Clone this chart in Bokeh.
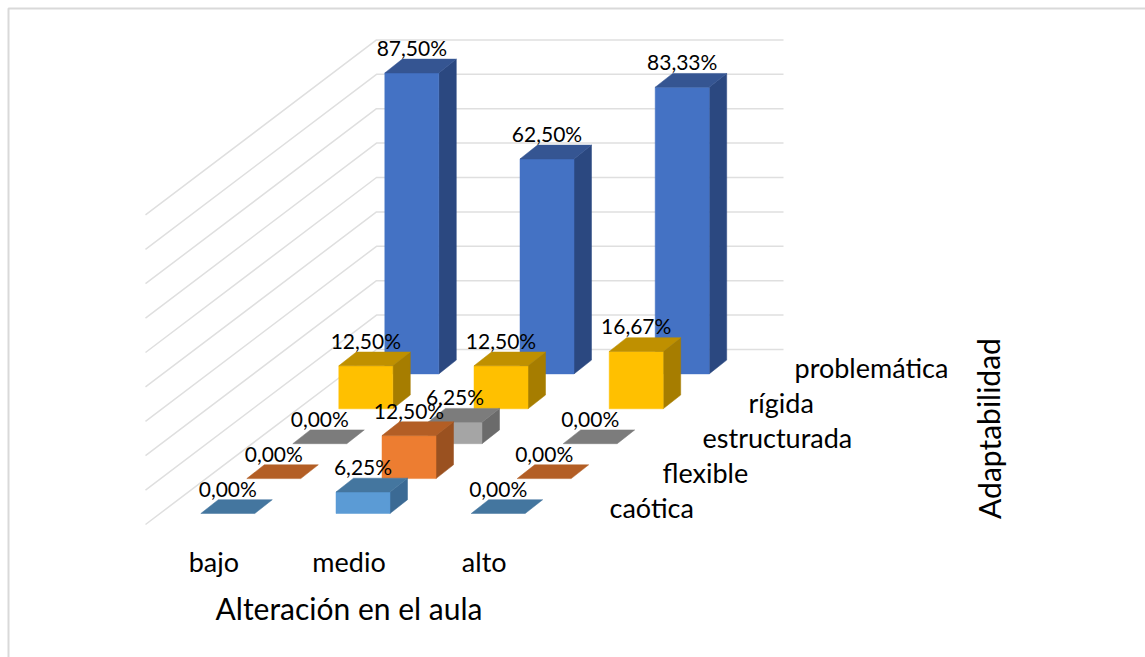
from bokeh.plotting import figure
from bokeh.models import Range1d
from bokeh.core.properties import value
from bokeh.embed import file_html
from bokeh.resources import INLINE

# ---- data -------------------------------------------------------------
categories = ["bajo", "medio", "alto"]
series_names = ["caótica", "flexible", "estructurada", "rígida", "problemática"]
caotica = [0.0, 6.25, 0.0]
flexible = [0.0, 12.5, 0.0]
estructurada = [0.0, 6.25, 0.0]
rigida = [12.5, 12.5, 16.67]
problematica = [87.5, 62.5, 83.33]
grid_ticks = [0, 10, 20, 30, 40, 50, 60, 70, 80, 90]
x_title = "Alteración en el aula"
depth_title = "Adaptabilidad"

# ---- styles: front, top, side ----------------------------------------
series_values = [caotica, flexible, estructurada, rigida, problematica]
front = ["#5B9BD5", "#ED7D31", "#A5A5A5", "#FFC000", "#4472C4"]
top = ["#44769F", "#B35E25", "#7C7C7C", "#BF9000", "#355592"]
side = ["#3B6A94", "#9A5120", "#6B6B6B", "#A67D00", "#2B4880"]

# ---- layout: projection of the 3D chart to page pixels ---------------
W, H = 1145, 657
X0, Y0 = 200.3, 513.0      # front-left floor corner of first bar
CAT_DX = 135.2
SER_DX = 46.0
SER_DY = -34.9
PX_PER_PCT = 3.44
BAR_W = 54.0
DEPTH_X, DEPTH_Y = 17.5, -13.8
WALL_CORNER_X, WALL_ZERO_Y = 376.0, 349.0
WALL_LEFT_X, WALL_LEFT_DY = 145.0, 175.0
WALL_RIGHT_X = 783.0
FONT = "Lato"


def corner(c, s, v):
    return (X0 + c * CAT_DX + s * SER_DX, Y0 + s * SER_DY - v * PX_PER_PCT)


p = figure(width=W, height=H, output_backend="svg", toolbar_location=None,
           x_range=Range1d(0, W), y_range=Range1d(H, 0),
           min_border=0, outline_line_color=None)
p.axis.visible = False
p.grid.visible = False
p.background_fill_color = "white"
p.border_fill_color = "white"

# chart frame (only top and left edges show in the crop)
p.line([8, 8, W], [H, 8, 8], line_color="#D9D9D9", line_width=2)

# walls' grid lines
for t in grid_ticks:
    y = WALL_ZERO_Y - t * PX_PER_PCT
    p.line([WALL_LEFT_X, WALL_CORNER_X, WALL_RIGHT_X],
           [y + WALL_LEFT_DY, y, y], line_color="#DFDFDF", line_width=1.5)

# bars, back row first
for s in reversed(range(len(series_names))):
    for c in range(len(categories)):
        v = series_values[s][c]
        x, y_top = corner(c, s, v)
        _, y_base = corner(c, s, 0)
        x2 = x + BAR_W
        if v > 0:
            p.patch([x2, x2 + DEPTH_X, x2 + DEPTH_X, x2],
                    [y_top, y_top + DEPTH_Y, y_base + DEPTH_Y, y_base],
                    fill_color=side[s], line_color=side[s], line_width=0.5)
            p.patch([x, x2, x2, x], [y_top, y_top, y_base, y_base],
                    fill_color=front[s], line_color=front[s], line_width=0.5)
        p.patch([x, x2, x2 + DEPTH_X, x + DEPTH_X],
                [y_top, y_top, y_top + DEPTH_Y, y_top + DEPTH_Y],
                fill_color=top[s], line_color=top[s], line_width=0.5)

# data labels above all the bars
for s in reversed(range(len(series_names))):
    for c in range(len(categories)):
        v = series_values[s][c]
        x, y_top = corner(c, s, v)
        label = f"{v:.2f}".replace(".", ",") + "%"
        p.text([x + BAR_W / 2], [y_top - 25.5], text=[label],
               text_font=value(FONT), text_font_size="21px",
               text_color="black", text_align="center", text_baseline="middle")

# category labels
for c, name in enumerate(categories):
    x, y = corner(c, 0, 0)
    p.text([x + 13], [y + 47.5], text=[name],
           text_font=value(FONT), text_font_size="27px",
           text_color="black", text_align="center", text_baseline="middle")

# series labels
series_label_left = [609, 662, 702, 748, 794]
for s, name in enumerate(series_names):
    _, y = corner(0, s, 0)
    p.text([series_label_left[s]], [y - 6.5], text=[name],
           text_font=value(FONT), text_font_size="27px",
           text_color="black", text_align="left", text_baseline="middle")

# axis titles
p.text([348.5], [607], text=[x_title], text_font=value(FONT), text_font_size="30px",
       text_color="black", text_align="center", text_baseline="middle")
p.text([988], [428], text=[depth_title], angle=[1.5708], text_font=value(FONT),
       text_font_size="30px", text_color="black", text_align="center",
       text_baseline="middle")

open("out.html", "w").write(file_html(p, INLINE))
